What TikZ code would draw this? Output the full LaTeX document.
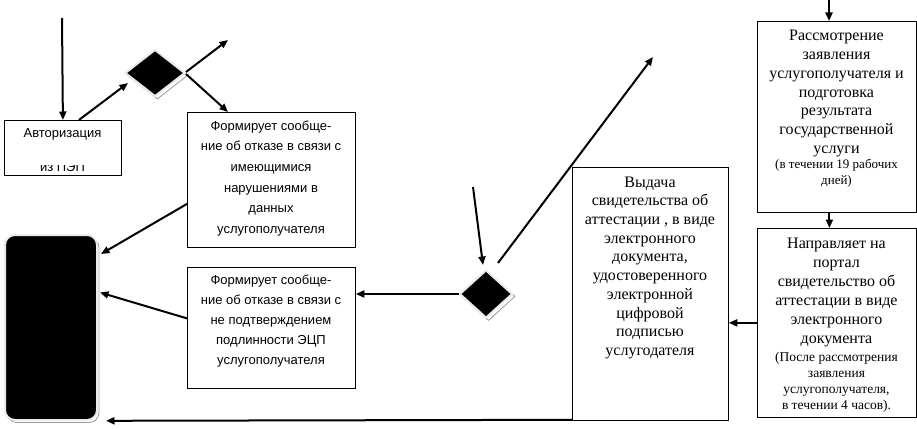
\documentclass[tikz,border=0pt]{standalone}
\usepackage{fontspec}
\setmainfont{Liberation Serif}
\setsansfont{Liberation Sans}
\usetikzlibrary{shapes.geometric,arrows.meta}

\tikzset{
	frame/.style={draw, line width=0.8pt, inner sep=0pt, anchor=north west},
	sanstext/.style={font=\sffamily\fontsize{13}{20.6}\selectfont, align=center, anchor=north, inner sep=0pt},
	seriftext/.style={font=\fontsize{16}{18.8}\selectfont, align=center, anchor=north, inner sep=0pt},
	notetext/.style={font=\fontsize{13}{16}\selectfont, align=center, anchor=north, inner sep=0pt},
	decision/.style={diamond, fill=black, draw=black!8, line width=2pt, inner sep=0pt, minimum width=60pt, minimum height=47pt},
	dshadow/.style={decision, fill=none, draw=black!40, line width=0.8pt},
	terminal/.style={rectangle, rounded corners=10pt, fill=black, draw=black!8, line width=2pt, minimum width=92pt, minimum height=185pt},
	tshadow/.style={terminal, fill=none, draw=black!40, line width=0.8pt},
	flow/.style={-{Triangle[length=8.5pt,width=7pt]}, line width=2pt},
}

\begin{document}
\begin{tikzpicture}[x=1pt, y=-1pt]
	\useasboundingbox (0,0) rectangle (917,428);

	% boxes
	\node[frame, minimum width=117pt, minimum height=55pt] (auth) at (4,120) {};
	\node[frame, minimum width=168pt, minimum height=135pt] (f1) at (187,112) {};
	\node[frame, minimum width=168pt, minimum height=121pt] (f2) at (187,267) {};
	\node[frame, minimum width=156pt, minimum height=253pt] (vyd) at (572,167) {};
	\node[frame, minimum width=159pt, minimum height=191pt] (rassm) at (757,21) {};
	\node[frame, minimum width=159pt, minimum height=189pt] (napr) at (757,228) {};

	% texts
	\node[sanstext, anchor=base] (auth-t) at (62.5,137) {Авторизация};
	\begin{scope}
		\clip (4,165) rectangle (121,175);
		\node[sanstext, anchor=base] (auth-t2) at (62.5,171.5) {из ПЭП};
	\end{scope}
	\node[sanstext] (f1-t) at (271,120.5) {Формирует сообще-\\ние об отказе в связи с\\имеющимися\\нарушениями в\\данных\\услугополучателя};
	\node[sanstext, font=\sffamily\fontsize{13}{20}\selectfont] (f2-t) at (271,274.5) {Формирует сообще-\\ние об отказе в связи с\\не подтверждением\\подлинности ЭЦП\\услугополучателя};
	\node[seriftext, font=\fontsize{16}{18.7}\selectfont] (vyd-t) at (650,176.5) {Выдача\\свидетельства об\\аттестации , в виде\\электронного\\документа,\\удостоверенного\\электронной\\цифровой\\подписью\\услугодателя};
	\node[seriftext] (rassm-t) at (836.5,30) {Рассмотрение\\заявления\\услугополучателя и\\подготовка\\результата\\государственной\\услуги};
	\node[notetext] (rassm-n) at (836.5,159) {(в течении 19 рабочих\\дней)};
	\node[seriftext, font=\fontsize{16}{19}\selectfont] (napr-t) at (836.5,238) {Направляет на\\портал\\свидетельство об\\аттестации в виде\\электронного\\документа};
	\node[notetext, font=\fontsize{13.5}{16}\selectfont] (napr-n) at (836.5,352) {(После рассмотрения\\заявления\\услугополучателя,\\в течении 4 часов).};

	% decisions and terminal
	\node[dshadow] (d1s) at (157.5,75.5) {};
	\node[decision] (d1) at (155,73) {};
	\node[dshadow, minimum width=53pt, minimum height=48pt] (d2s) at (488.5,296.5) {};
	\node[decision, minimum width=53pt, minimum height=48pt] (d2) at (486,294) {};
	\node[tshadow] (terms) at (53,330) {};
	\node[terminal] (term) at (51,327.5) {};

	% connectors
	\coordinate (start1) at (62,18);
	\coordinate (start2) at (473,187);
	\coordinate (start3) at (829,0);
	\coordinate (d1out) at (228,40);
	\coordinate (d2out) at (653,57);

	\draw[flow] (start1) -- (auth.north);
	\draw[flow] ([xshift=16pt]auth.north) -- ([shift={(4,10)}]d1.west);
	\draw[flow] ([shift={(0,-1)}]d1.east) -- (d1out);
	\draw[flow] ([shift={(0,1)}]d1.east) -- ([xshift=41pt]f1.north west);
	\draw[flow] ([shift={(0,24)}]f1.west) -- ([shift={(3,20)}]term.north east);
	\draw[flow] ([shift={(0,-9.5)}]f2.west) -- ([shift={(2,-35)}]term.east);
	\draw[flow] ([yshift=1pt]vyd.south west) -- ([xshift=8pt]term.east |- vyd.south west);
	\draw[flow] (start2) -- ([shift={(-3,-4)}]d2.north);
	\draw[flow] ([shift={(12,-6)}]d2.north) -- (d2out);
	\draw[flow] (d2.west) -- (f2.east |- d2.west);
	\draw[flow] (start3) -- (start3 |- rassm.north);
	\draw[flow] ([xshift=-7.5pt]rassm.south) -- ([xshift=-7.5pt]napr.north);
	\draw[flow] (napr.west) -- (vyd.east |- napr.west);
\end{tikzpicture}
\end{document}
